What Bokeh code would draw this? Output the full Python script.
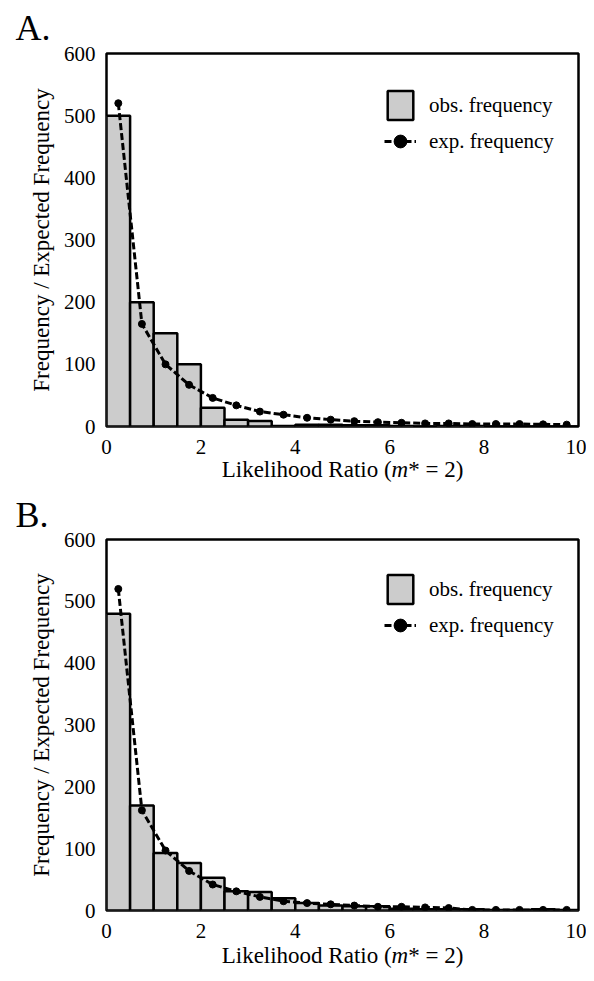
from bokeh.plotting import figure
from bokeh.layouts import column
from bokeh.models import Label, Legend, LegendItem, FixedTicker, Range1d, Title
from bokeh.embed import file_html
from bokeh.resources import INLINE

# ---- data ----
bin_centers = [0.25, 0.75, 1.25, 1.75, 2.25, 2.75, 3.25, 3.75, 4.25, 4.75,
               5.25, 5.75, 6.25, 6.75, 7.25, 7.75, 8.25, 8.75, 9.25, 9.75]
bin_width = 0.5

obs_a = [500, 200, 150, 100, 30, 11, 9, 1, 3, 3, 2, 2, 1, 0, 1, 1, 0, 0, 0, 0]
exp_a = [520, 165, 100, 67, 46, 34, 24, 19, 14, 11, 8.6, 7, 6, 5, 5, 4, 4, 4, 3.5, 3]

obs_b = [480, 170, 93, 77, 53, 31, 30, 20, 12, 8, 7, 7, 3, 2, 2, 2, 1, 1, 2, 1]
exp_b = [520, 162, 97, 64, 42, 31, 22, 15, 12, 10, 8, 6, 6, 5, 4, 1, 1, 1, 1, 1]

x_ticks = [0, 2, 4, 6, 8, 10]
y_ticks = [0, 100, 200, 300, 400, 500, 600]

FONT = "'Times New Roman', 'Liberation Serif', serif"
W = 586
FRAME_L, FRAME_W = 106, 472
FRAME_R = W - FRAME_L - FRAME_W


def text_strip(height):
    """A blank strip (no axes) whose frame lines up with the panels' frames."""
    t = figure(width=W, height=height,
               x_range=Range1d(FRAME_L, FRAME_L + FRAME_W), y_range=Range1d(0, height),
               output_backend="svg", toolbar_location=None,
               min_border_left=FRAME_L, min_border_right=FRAME_R,
               min_border_top=0, min_border_bottom=0,
               x_axis_location=None, y_axis_location=None)
    t.outline_line_color = None
    t.grid.visible = False
    return t


def add_xlabel(t, y):
    fs = 23
    w1 = 7.389 * fs
    wm = 0.722 * fs
    w3 = 2.397 * fs
    total = w1 + wm + w3
    cx = FRAME_L + FRAME_W / 2
    j = cx - total / 2 + w1
    common = dict(y=y, text_baseline="alphabetic", text_font=FONT,
                  text_font_size=f"{fs}px", text_color="black")
    t.add_layout(Label(x=j, text="Likelihood Ratio (", text_align="right", **common))
    t.add_layout(Label(x=j, text="m", text_align="left", text_font_style="italic", **common))
    t.add_layout(Label(x=j + wm, text="* = 2)", text_align="left", **common))


def make_panel(letter, obs, exp, height, top, bottom, title_standoff):
    p = figure(width=W, height=height, x_range=Range1d(0, 10), y_range=Range1d(0, 600),
               output_backend="svg", toolbar_location=None,
               min_border_left=FRAME_L, min_border_right=FRAME_R,
               min_border_top=top, min_border_bottom=bottom)
    p.xgrid.visible = False
    p.ygrid.visible = False
    p.outline_line_color = "black"
    p.outline_line_width = 2.5
    p.outline_line_alpha = 1.0

    p.title = Title(text=letter, text_font=FONT, text_font_size="36px",
                    text_font_style="normal", text_color="black",
                    align="left", vertical_align="top", offset=-91,
                    standoff=title_standoff)

    bars = p.vbar(x=bin_centers, width=bin_width, top=obs, bottom=0,
                  fill_color="#cccccc", line_color="black", line_width=2.5)
    ln = p.line(bin_centers, exp, line_dash="7 3", line_width=3, color="black")
    sc = p.scatter(bin_centers, exp, size=7, color="black")

    for ax in (p.xaxis, p.yaxis):
        ax.axis_line_color = None
        ax.major_tick_line_color = None
        ax.minor_tick_line_color = None
        ax.major_label_text_font = FONT
        ax.major_label_text_font_size = "21px"
        ax.major_label_text_color = "black"
    p.xaxis.ticker = FixedTicker(ticks=x_ticks)
    p.yaxis.ticker = FixedTicker(ticks=y_ticks)
    p.xaxis.major_label_standoff = 7
    p.yaxis.major_label_standoff = 5

    p.yaxis.axis_label = "Frequency / Expected Frequency"
    p.yaxis.axis_label_text_font = FONT
    p.yaxis.axis_label_text_font_size = "23px"
    p.yaxis.axis_label_text_font_style = "normal"
    p.yaxis.axis_label_text_color = "black"
    p.yaxis.axis_label_standoff = 7

    legend = Legend(items=[LegendItem(label="obs. frequency", renderers=[bars]),
                           LegendItem(label="exp. frequency", renderers=[ln, sc])],
                    location=(278, 267), glyph_width=32, glyph_height=36,
                    label_standoff=13, spacing=0, padding=0, margin=0,
                    border_line_color=None, background_fill_alpha=0,
                    label_text_font=FONT, label_text_font_size="21px",
                    label_text_color="black")
    p.add_layout(legend)
    return p


# page rows: panel A 0-457, strip 457-489, panel B 489-943, strip 943-980
pa = make_panel("A.", obs_a, exp_a, 457, 53, 31, 8)

mid_strip = text_strip(32)
add_xlabel(mid_strip, 20)

pb = make_panel("B.", obs_b, exp_b, 454, 50, 33, 5)

bot_strip = text_strip(37)
add_xlabel(bot_strip, 25)

layout = column(pa, mid_strip, pb, bot_strip, spacing=0)
open("out.html", "w").write(file_html(layout, INLINE))
